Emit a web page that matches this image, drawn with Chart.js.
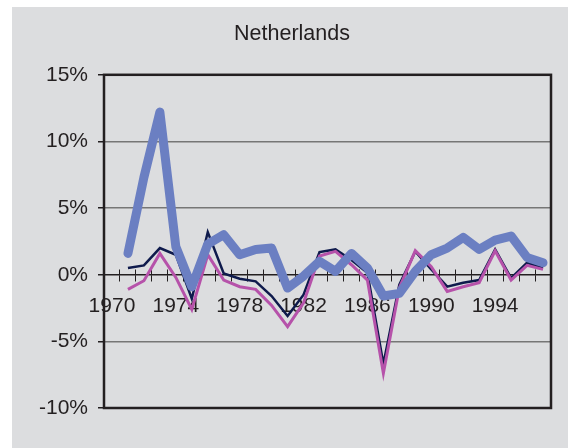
<!DOCTYPE html>
<html>
<head>
<meta charset="utf-8">
<script src="https://cdn.jsdelivr.net/npm/chart.js@4.4.1/dist/chart.umd.min.js"></script>
<style>
    body { margin: 0; background: #ffffff; }
    #wrap { position: absolute; left: 12px; top: 7px; width: 556px; height: 441px; background: #dcdddf; }
</style>
</head>
<body>
<div id="wrap"><canvas id="grafico" width="556" height="441"></canvas></div>
<script>
// años (categorias)
const years = [];
for (let y = 1970; y <= 1997; y++) years.push(String(y));

// valores, en %
const serieAzul = [null, 1.6, 7.3, 12.2, 2.1, -0.9, 2.3, 3.0, 1.5, 1.9, 2.0, -1.0, -0.1, 1.0, 0.25, 1.6, 0.5, -1.6, -1.4, 0.25, 1.5, 2.0, 2.8, 1.9, 2.6, 2.9, 1.3, 0.9];
const serieOscura = [null, 0.5, 0.7, 2.0, 1.5, -1.8, 3.2, 0.1, -0.3, -0.5, -1.6, -3.1, -1.5, 1.7, 1.9, 1.1, 0.15, -6.7, -0.75, 1.75, 0.4, -0.9, -0.6, -0.4, 1.9, -0.25, 0.9, 0.5];
const serieRosa = [null, -1.1, -0.45, 1.6, -0.2, -2.6, 1.5, -0.4, -0.9, -1.1, -2.3, -3.9, -2.1, 1.4, 1.75, 0.75, -0.4, -7.4, -1.0, 1.8, 0.6, -1.25, -0.9, -0.6, 1.8, -0.4, 0.7, 0.4];

const yTicks = [-10, -5, 0, 5, 10, 15];

const fuente = 'Liberation Sans, Arial, sans-serif';

// marco del area del grafico
const marco = {
    id: 'marco',
    beforeDatasetsDraw(chart) {
        // marcas del eje x que cruzan la linea (tambien hacia arriba)
        const sx = chart.scales.x;
        const items = sx._gridLineItems || [];
        const ctx = chart.ctx;
        ctx.save();
        ctx.strokeStyle = '#231f20';
        ctx.lineWidth = 1;
        items.forEach(it => {
            ctx.beginPath();
            ctx.moveTo(it.tx1, it.ty1);
            ctx.lineTo(it.tx1, it.ty1 - 6);
            ctx.stroke();
        });
        ctx.restore();
    },
    afterDraw(chart) {
        const a = chart.chartArea;
        const ctx = chart.ctx;
        ctx.save();
        ctx.strokeStyle = '#231f20';
        ctx.lineWidth = 2.5;
        ctx.strokeRect(a.left, a.top, a.right - a.left, a.bottom - a.top);
        ctx.restore();
    }
};

const ctx = document.getElementById('grafico').getContext('2d');
new Chart(ctx, {
    type: 'line',
    data: {
        labels: years,
        datasets: [
            {
                label: 'A',
                data: serieAzul,
                borderColor: '#6b7fc2',
                borderWidth: 9,
                borderCapStyle: 'round',
                borderJoinStyle: 'round',
                pointRadius: 0,
                tension: 0
            },
            {
                label: 'B',
                data: serieRosa,
                borderColor: '#b652aa',
                borderWidth: 3,
                pointRadius: 0,
                tension: 0
            },
            {
                label: 'C',
                data: serieOscura,
                borderColor: '#0e1a4c',
                borderWidth: 2.5,
                pointRadius: 0,
                tension: 0
            }
        ]
    },
    options: {
        responsive: false,
        animation: false,
        layout: { padding: { left: 21, right: 17, top: 0, bottom: 40 } },
        plugins: {
            legend: { display: false },
            tooltip: { enabled: false },
            title: {
                display: true,
                text: 'Netherlands',
                color: '#231f20',
                font: { family: fuente, size: 21.5, weight: 'normal' },
                padding: { top: 14, bottom: 28 }
            }
        },
        scales: {
            x: {
                type: 'category',
                position: { y: 0 },
                offset: true,
                border: { display: true, color: '#231f20', width: 1.5 },
                grid: { offset: true, drawOnChartArea: false, drawTicks: true, tickLength: 6, tickColor: '#231f20', lineWidth: 1 },
                ticks: {
                    autoSkip: false,
                    maxRotation: 0,
                    padding: 13,
                    color: '#231f20',
                    font: { family: fuente, size: 21 },
                    callback: function (val, i) { return i % 4 === 0 ? years[i] : ''; }
                }
            },
            y: {
                min: -10,
                max: 15,
                afterFit: function (scale) { scale.width = 71; },
                afterBuildTicks: function (scale) { scale.ticks = yTicks.map(v => ({ value: v })); },
                border: { display: false },
                grid: {
                    color: c => (c.tick && c.tick.value === 0) ? 'rgba(0,0,0,0)' : '#767676',
                    lineWidth: 1.5,
                    tickLength: 6,
                    tickColor: '#231f20'
                },
                ticks: {
                    padding: 10,
                    color: '#231f20',
                    font: { family: fuente, size: 21 },
                    callback: v => v + '%'
                }
            }
        }
    },
    plugins: [marco]
});
</script>
</body>
</html>
